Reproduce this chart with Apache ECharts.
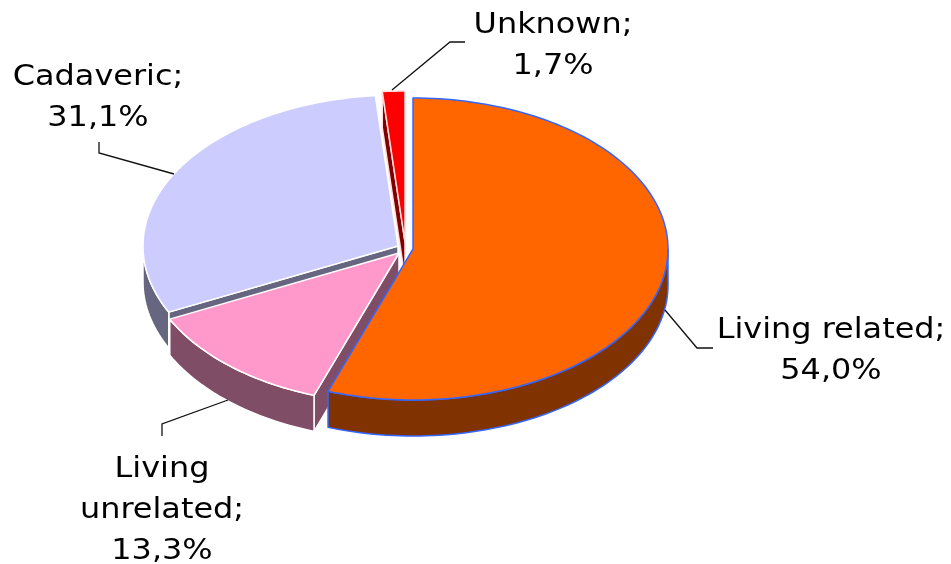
<!DOCTYPE html>
<html>
<head>
<meta charset="utf-8">
<style>html,body{margin:0;padding:0;background:#fff}#chart{width:951px;height:564px}</style>
<script src="https://cdn.jsdelivr.net/npm/echarts@6/dist/echarts.min.js"></script>
</head>
<body>
<div id="chart"></div>
<script>
var categories = ['Living related', 'Living unrelated', 'Cadaveric', 'Unknown'];
var shares = [54.0, 13.3, 31.1, 1.7];
var percentLabels = ['54,0%', '13,3%', '31,1%', '1,7%'];

// look of the slices
var topColors = ['#ff6600', '#ff99cc', '#ccccff', '#ff0000'];
var wallColors = ['#803300', '#804d66', '#666680', '#800000'];
var edgeColors = ['#3366ff', '#ffffff', '#ffffff', '#ffdddd'];
var apexes = [[413, 249], [399, 253], [398, 246], [405, 242]];
var radiusX = 255, radiusY = 151, depth = 36;

// label text blocks (centre x, first line middle y) and leader lines
var labelLines = [['Living related;'], ['Living', 'unrelated;'], ['Cadaveric;'], ['Unknown;']];
var labelPos = [[831, 331], [162, 470], [98, 78], [553, 26]];
var leaders = [
    [[665, 310], [697, 348], [713, 348]],
    [[228, 400], [162, 424], [162, 436]],
    [[174, 174], [99, 153], [99, 142]],
    [[392, 90], [450, 42], [465, 42]]
];

var total = shares.reduce(function (a, b) { return a + b; }, 0);
var starts = [];
var sum = 0;
shares.forEach(function (v) { starts.push(sum / total * 360); sum += v; });

// the tilted pie is seen in perspective, near slices look a little wider
function skew(deg) {
    if (deg <= 0) return 0;
    return deg + 1 + 4.6 * Math.pow(Math.sin(deg / 360 * Math.PI), 10);
}
function rimPoint(i, deg, drop) {
    var r = deg * Math.PI / 180;
    return [apexes[i][0] + radiusX * Math.sin(r), apexes[i][1] - radiusY * Math.cos(r) + (drop || 0)];
}
function arcPoints(i, from, to, drop) {
    var pts = [], n = Math.max(2, Math.ceil((to - from) / 1.5));
    for (var k = 0; k <= n; k++) pts.push(rimPoint(i, from + (to - from) * k / n, drop));
    return pts;
}
function poly(points, fill, stroke) {
    return { type: 'polygon', shape: { points: points }, style: { fill: fill, stroke: stroke, lineWidth: 1.5, lineJoin: 'round' } };
}

function renderSlice(params, api) {
    var i = api.value(0);
    var a = skew(starts[i]);
    var b = i === shares.length - 1 ? 360 : skew(starts[i] + api.value(1) / total * 360);
    var apex = apexes[i];
    var kids = [];
    // cut face below the starting edge
    if (a >= 180 && a < 360) {
        kids.push(poly([apex, rimPoint(i, a), rimPoint(i, a, depth), [apex[0], apex[1] + depth]], wallColors[i], edgeColors[i]));
    }
    // outer wall, only the front half of the rim shows
    var wa = Math.max(a, 90), wb = Math.min(b, 270);
    if (wb > wa) {
        var upper = arcPoints(i, wa, wb, 0);
        var lower = arcPoints(i, wa, wb, depth).reverse();
        kids.push(poly(upper.concat(lower), wallColors[i], edgeColors[i]));
    }
    kids.push(poly([apex].concat(arcPoints(i, a, b, 0)), topColors[i], edgeColors[i]));
    return { type: 'group', children: kids };
}

function renderLabel(params, api) {
    var i = api.value(0);
    var kids = [{ type: 'polyline', shape: { points: leaders[i] }, style: { fill: 'none', stroke: '#111', lineWidth: 1.3 } }];
    labelLines[i].concat(percentLabels[i]).forEach(function (t, k) {
        kids.push({
            type: 'text',
            x: labelPos[i][0],
            y: labelPos[i][1] + k * 41,
            scaleX: 1.14,
            style: {
                x: 0, y: 0, text: t,
                font: '28px "DejaVu Sans"', fill: '#000', align: 'center', verticalAlign: 'middle'
            }
        });
    });
    return { type: 'group', children: kids };
}

// far slices first so the near ones sit on top
var drawOrder = [3, 2, 1, 0];

var chart = echarts.init(document.getElementById('chart'));
chart.setOption({
    animation: false,
    backgroundColor: '#fff',
    series: [{
        type: 'custom',
        coordinateSystem: 'none',
        silent: true,
        renderItem: renderSlice,
        data: drawOrder.map(function (i) { return { name: categories[i], value: [i, shares[i]] }; })
    }, {
        type: 'custom',
        coordinateSystem: 'none',
        silent: true,
        renderItem: renderLabel,
        data: drawOrder.map(function (i) { return { name: categories[i] + ' ' + percentLabels[i], value: [i, shares[i]] }; })
    }]
});
</script>
</body>
</html>
